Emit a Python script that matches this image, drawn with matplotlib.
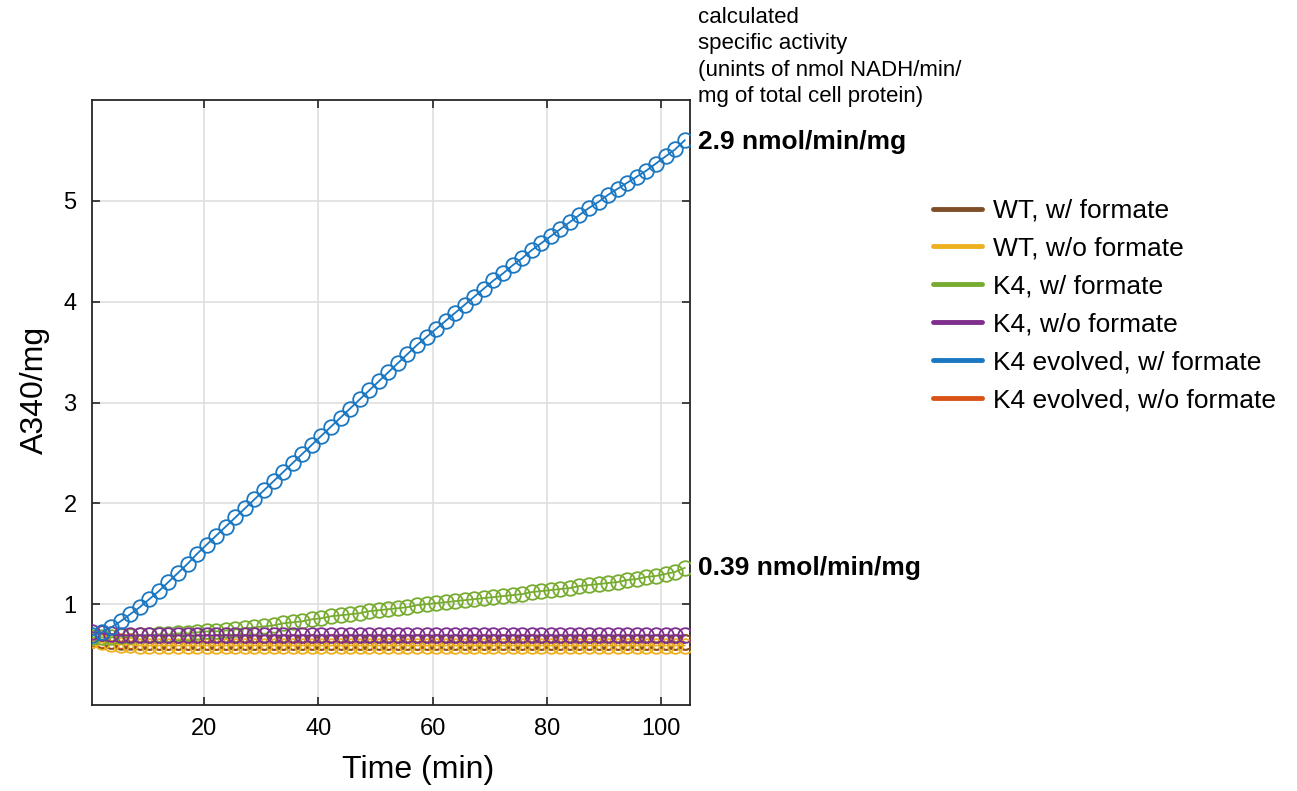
import numpy as np
import matplotlib
matplotlib.use("Agg")
import matplotlib.pyplot as plt
from matplotlib.lines import Line2D

plt.rcParams['font.family'] = ['Liberation Sans', 'DejaVu Sans']

# sample times (min): readings every ~1.67 min
time_min = 0.4 + 1.672 * np.arange(63)

wt_with = [0.64, 0.63, 0.63, 0.62, 0.62, 0.62, 0.62, 0.62, 0.62, 0.62,
           0.62, 0.62, 0.62, 0.62, 0.62, 0.62, 0.62, 0.62, 0.62, 0.62,
           0.62, 0.62, 0.62, 0.62, 0.62, 0.62, 0.62, 0.62, 0.62, 0.62,
           0.62, 0.62, 0.62, 0.62, 0.62, 0.62, 0.62, 0.62, 0.62, 0.62,
           0.62, 0.62, 0.62, 0.62, 0.62, 0.62, 0.62, 0.62, 0.62, 0.62,
           0.62, 0.62, 0.62, 0.62, 0.62, 0.62, 0.62, 0.62, 0.62, 0.62,
           0.62, 0.62, 0.62]
wt_without = [0.64, 0.62, 0.61, 0.60, 0.60, 0.59, 0.59, 0.59, 0.59, 0.59,
              0.59, 0.59, 0.59, 0.59, 0.59, 0.59, 0.59, 0.59, 0.59, 0.59,
              0.59, 0.59, 0.59, 0.59, 0.59, 0.59, 0.59, 0.59, 0.59, 0.59,
              0.59, 0.59, 0.59, 0.59, 0.59, 0.59, 0.59, 0.59, 0.59, 0.59,
              0.59, 0.59, 0.59, 0.59, 0.59, 0.59, 0.59, 0.59, 0.59, 0.59,
              0.59, 0.59, 0.59, 0.59, 0.59, 0.59, 0.59, 0.59, 0.59, 0.59,
              0.59, 0.59, 0.59]
k4_with = [0.67, 0.67, 0.67, 0.68, 0.68, 0.69, 0.69, 0.70, 0.70, 0.71,
           0.71, 0.72, 0.73, 0.73, 0.74, 0.75, 0.76, 0.77, 0.78, 0.79,
           0.81, 0.82, 0.83, 0.85, 0.86, 0.88, 0.89, 0.90, 0.91, 0.93,
           0.94, 0.95, 0.96, 0.97, 0.99, 1.00, 1.01, 1.02, 1.03, 1.04,
           1.05, 1.06, 1.07, 1.08, 1.09, 1.10, 1.12, 1.13, 1.14, 1.15,
           1.16, 1.18, 1.19, 1.20, 1.21, 1.22, 1.24, 1.25, 1.27, 1.28,
           1.30, 1.32, 1.36]
k4_without = [0.72, 0.71, 0.70, 0.69, 0.69, 0.69, 0.69, 0.69, 0.69, 0.69,
              0.69, 0.69, 0.69, 0.69, 0.69, 0.69, 0.69, 0.69, 0.69, 0.69,
              0.69, 0.69, 0.69, 0.69, 0.69, 0.69, 0.69, 0.69, 0.69, 0.69,
              0.69, 0.69, 0.69, 0.69, 0.69, 0.69, 0.69, 0.69, 0.69, 0.69,
              0.69, 0.69, 0.69, 0.69, 0.69, 0.69, 0.69, 0.69, 0.69, 0.69,
              0.69, 0.69, 0.69, 0.69, 0.69, 0.69, 0.69, 0.69, 0.69, 0.69,
              0.69, 0.69, 0.69]
k4evo_with = [0.69, 0.72, 0.77, 0.83, 0.90, 0.97, 1.05, 1.13, 1.22, 1.31,
              1.40, 1.50, 1.59, 1.68, 1.77, 1.86, 1.95, 2.04, 2.13, 2.22,
              2.31, 2.40, 2.49, 2.58, 2.67, 2.76, 2.85, 2.94, 3.03, 3.12,
              3.21, 3.30, 3.39, 3.48, 3.57, 3.65, 3.73, 3.81, 3.89, 3.97,
              4.05, 4.13, 4.21, 4.28, 4.36, 4.43, 4.51, 4.58, 4.65, 4.72,
              4.79, 4.86, 4.93, 4.99, 5.06, 5.12, 5.18, 5.24, 5.30, 5.37,
              5.44, 5.51, 5.60]
k4evo_without = [0.65, 0.64, 0.63, 0.63, 0.63, 0.62, 0.62, 0.62, 0.62, 0.62,
                 0.62, 0.62, 0.62, 0.62, 0.62, 0.62, 0.62, 0.62, 0.62, 0.62,
                 0.62, 0.62, 0.62, 0.62, 0.62, 0.62, 0.62, 0.62, 0.62, 0.62,
                 0.62, 0.62, 0.62, 0.62, 0.62, 0.62, 0.62, 0.62, 0.62, 0.62,
                 0.62, 0.62, 0.62, 0.62, 0.62, 0.62, 0.62, 0.62, 0.62, 0.62,
                 0.62, 0.62, 0.62, 0.62, 0.62, 0.62, 0.62, 0.62, 0.62, 0.62,
                 0.62, 0.62, 0.62]

series_labels = ["WT, w/ formate", "WT, w/o formate", "K4, w/ formate",
                 "K4, w/o formate", "K4 evolved, w/ formate", "K4 evolved, w/o formate"]
series_values = [wt_with, wt_without, k4_with, k4_without, k4evo_with, k4evo_without]
series_colors = ["#7E4F26", "#EDB120", "#77AC30", "#7E2F8E", "#1A77C2", "#D95319"]
draw_order = [5, 0, 1, 2, 3, 4]

activity_labels = ["2.9 nmol/min/mg", "0.39 nmol/min/mg"]
activity_y = [5.58, 1.36]
annotation_text = "calculated\nspecific activity\n(unints of nmol NADH/min/\nmg of total cell protein)"

fig = plt.figure(figsize=(12.97, 7.91), dpi=100)
ax = fig.add_axes([0.0709, 0.1087, 0.4611, 0.7649])

for i in draw_order:
    ax.plot(time_min, series_values[i], color=series_colors[i], lw=1.3,
            marker='o', markersize=10.5, markerfacecolor='none',
            markeredgewidth=1.3, zorder=3)

ax.set_xlim(0.4, 105)
ax.set_ylim(0, 6)
ax.set_xticks([20, 40, 60, 80, 100])
ax.set_yticks([1, 2, 3, 4, 5])
ax.grid(True, color='#dfdfdf', lw=1.2)
ax.set_axisbelow(True)
ax.tick_params(direction='in', top=True, right=True, length=6, width=1.2,
               labelsize=17, colors='#262626', labelcolor='black')
ax.tick_params(axis='x', pad=9)
ax.tick_params(axis='y', pad=11)
for s in ax.spines.values():
    s.set_linewidth(1.3)
    s.set_color('#262626')
ax.set_xlabel("Time (min)", fontsize=23)
ax.set_ylabel("A340/mg", fontsize=23)
ax.xaxis.set_label_coords((418 - 92) / 598, -(755 - 705) / 605)
ax.yaxis.set_label_coords(-(92 - 50) / 598, (705 - 390) / 605)

for lab, yv in zip(activity_labels, activity_y):
    ax.annotate(lab, xy=(1.0, yv), xycoords=('axes fraction', 'data'),
                xytext=(6, 0), textcoords='offset points',
                fontsize=19, fontweight='bold', va='center', ha='left')

fig.text(698 / 1297, 1 - 7 / 791, annotation_text, fontsize=16,
         va='top', ha='left', linespacing=1.33)

handles = [Line2D([0], [0], color=c, lw=3.5, solid_capstyle='round')
           for c in series_colors]
fig.legend(handles, series_labels, loc='upper left',
           bbox_to_anchor=(909 / 1297, 1 - 175 / 791), frameon=False,
           fontsize=19, handlelength=1.85, handletextpad=0.42,
           labelspacing=0.53)

fig.savefig("out.png", dpi=100)
